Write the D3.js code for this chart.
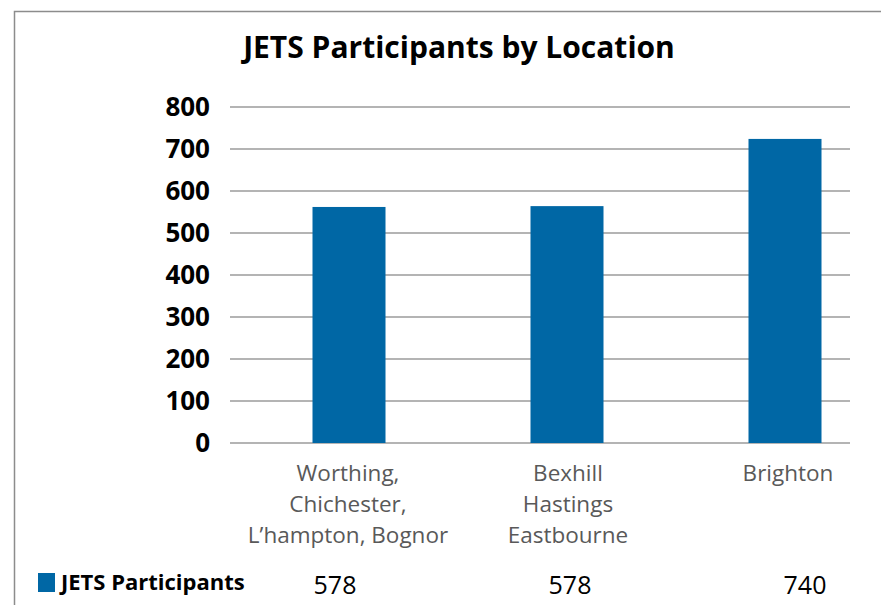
<!DOCTYPE html>
<html lang="en">
<head>
    <style>
        body { margin: 0; background: #fff; }
        svg { display: block; }
        text { font-family: "Open Sans", "Noto Sans", sans-serif; }
    </style>
</head>
<body>
    <svg width="881" height="605"></svg>
    <script src="https://cdn.jsdelivr.net/npm/d3@7"></script>
    <script>
        // Data
        const categories = ["Worthing,\nChichester,\nL\u2019hampton, Bognor", "Bexhill\nHastings\nEastbourne", "Brighton"];
        const barValues = [562, 564, 724];          // bar heights as drawn
        const tableValues = ["578", "578", "740"];  // data table row
        const seriesName = "JETS Participants";
        const yTicks = [0, 100, 200, 300, 400, 500, 600, 700, 800];

        const svg = d3.select("svg");
        const blue = "#0067a5";

        // Frame (top and left edge)
        svg.append("path")
            .attr("d", "M14.5,605 V11.5 H881")
            .attr("fill", "none").attr("stroke", "#8c8c8c").attr("stroke-width", 1.5);

        // Title
        svg.append("text")
            .attr("x", 459).attr("y", 58)
            .attr("text-anchor", "middle")
            .attr("font-size", 30).attr("font-weight", "bold")
            .text("JETS Participants by Location");

        /************************************************************
        * Scales
        ************************************************************/
        const y = d3.scaleLinear().domain([0, 800]).range([443, 107]);
        const x = d3.scalePoint().domain(categories).range([349, 785]);
        const xLabel = d3.scalePoint().domain(categories).range([348, 788]);
        const xTable = d3.scalePoint().domain(categories).range([335, 805]);
        const barWidth = 73;

        // Gridlines
        svg.append("g")
            .selectAll("line").data(yTicks).join("line")
            .attr("x1", 230).attr("x2", 850)
            .attr("y1", d => y(d)).attr("y2", d => y(d))
            .attr("stroke", "#9b9b9b").attr("stroke-width", 1.5);

        // Y axis labels
        const yAxis = svg.append("g")
            .attr("transform", "translate(222,0)")
            .call(d3.axisLeft(y).tickValues(yTicks).tickSize(0).tickPadding(12));
        yAxis.select(".domain").remove();
        yAxis.selectAll("text")
            .attr("font-size", 26).attr("font-weight", "bold").attr("fill", "#000")
            .attr("font-family", "\"Open Sans\", sans-serif");

        // Bars
        svg.append("g")
            .selectAll("rect").data(categories).join("rect")
            .attr("x", d => x(d) - barWidth / 2)
            .attr("width", barWidth)
            .attr("y", (d, i) => y(barValues[i]))
            .attr("height", (d, i) => y(0) - y(barValues[i]))
            .attr("fill", blue);

        // Category labels
        svg.append("g")
            .selectAll("text").data(categories).join("text")
            .attr("text-anchor", "middle")
            .attr("font-size", 22.5).attr("fill", "#595959")
            .each(function(d) {
                d3.select(this).selectAll("tspan").data(d.split("\n")).join("tspan")
                    .attr("x", xLabel(d))
                    .attr("y", (t, j) => 481 + j * 31)
                    .text(t => t);
            });

        // Data table row
        svg.append("rect")
            .attr("x", 38).attr("y", 573).attr("width", 17).attr("height", 19)
            .attr("fill", blue);
        svg.append("text")
            .attr("x", 61).attr("y", 590)
            .attr("font-size", 22).attr("font-weight", "bold")
            .text(seriesName);
        svg.append("g")
            .selectAll("text").data(categories).join("text")
            .attr("x", d => xTable(d)).attr("y", 594)
            .attr("text-anchor", "middle")
            .attr("font-size", 25)
            .text((d, i) => tableValues[i]);
    </script>
</body>
</html>
